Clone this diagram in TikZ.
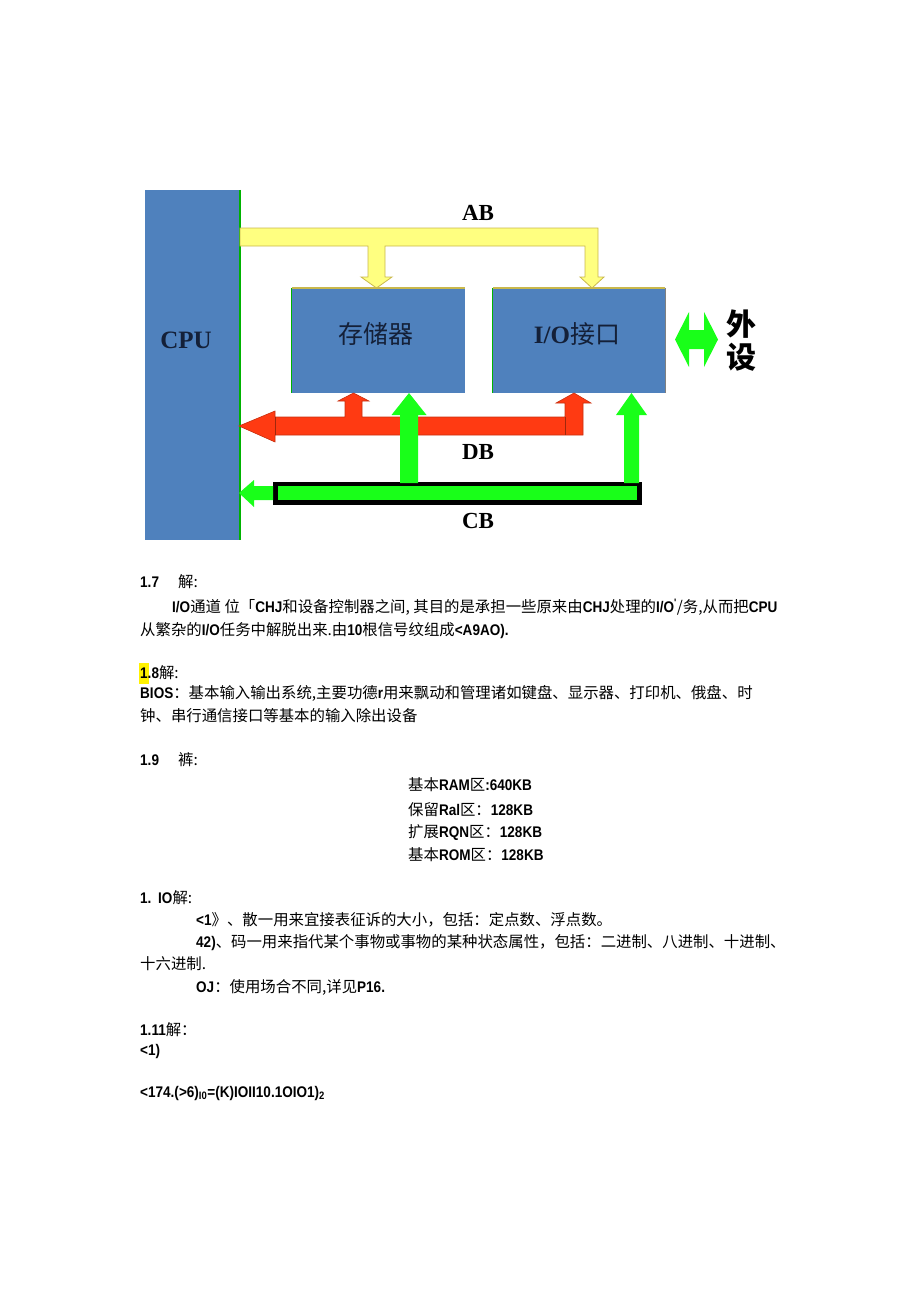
\documentclass[tikz,border=0pt]{standalone}
\usepackage{fontspec}
\setmainfont{Liberation Sans}
\newfontfamily\cjk{Noto Sans CJK SC}
\newfontfamily\narrowfont[FakeStretch=0.88]{Liberation Sans}
\newfontfamily\seriffont{Liberation Serif}
\newcommand{\lat}[1]{{\narrowfont\bfseries #1}}
\definecolor{boxblue}{HTML}{4F81BD}
\definecolor{busyellow}{HTML}{FFFF80}
\definecolor{yellowedge}{HTML}{C9B84C}
\definecolor{busred}{HTML}{FF3A12}
\definecolor{rededge}{HTML}{C8300F}
\definecolor{busgreen}{HTML}{19FF19}
\definecolor{textnavy}{HTML}{142038}

\begin{document}
\begin{tikzpicture}[x=1pt, y=-1pt,
    unit/.style={fill=boxblue, inner sep=0pt},
    unitlabel/.style={text=textnavy, inner sep=0pt},
    bustag/.style={font=\seriffont\bfseries\fontsize{23}{23}\selectfont, inner sep=0pt},
    para/.style={anchor=base west, inner sep=0pt, font=\cjk\fontsize{15.4}{17}\selectfont}]
    \useasboundingbox (0,0) rectangle (920,1301);

    % 三个部件
    \node[unit, minimum width=95, minimum height=350] (cpu) at (192.5,365) {};
    \node[unit, minimum width=173, minimum height=105] (mem) at (378.5,340.5) {};
    \node[unit, minimum width=172, minimum height=105] (io) at (579,340.5) {};
    \draw[green!70!black, line width=1.5] (cpu.north east) -- (cpu.south east);
    \draw[green!70!black, line width=1.2] (mem.north west) -- (mem.south west);
    \draw[green!70!black, line width=1.2] (io.north west) -- (io.south west);
    \draw[gray, line width=1] (io.north east) -- (io.south east);

    \node[unitlabel, font=\seriffont\bfseries\fontsize{25}{25}\selectfont] (cputext) at (186,340) {CPU};
    \node[unitlabel, font=\cjk\fontsize{25}{25}\selectfont] (memtext) at (376,334) {存储器};
    \node[unitlabel, font=\cjk\fontsize{25}{25}\selectfont] (iotext) at (577,334) {{\seriffont\bfseries I/O}接口};

    % AB 地址总线
    \filldraw[fill=busyellow, draw=yellowedge, line width=0.8]
        (240,228) -- (598,228) -- (598,277) -- (604,277) -- (592,288) -- (580,277)
        -- (585,277) -- (585,246) -- (385,246) -- (385,277) -- (392,277) -- (376.5,288)
        -- (361,277) -- (368,277) -- (368,246) -- (240,246) -- cycle;
    \draw[yellowedge, line width=1.5] (mem.north west) -- (mem.north east);
    \draw[yellowedge, line width=1.5] (io.north west) -- (io.north east);

    % DB 数据总线
    \filldraw[fill=busred, draw=rededge, line width=0.6]
        (239,426) -- (275,411) -- (275,417) -- (345,417) -- (345,401) -- (338,401)
        -- (353.5,393) -- (369,401) -- (362,401) -- (362,417) -- (565,417) -- (565,403)
        -- (556,403) -- (574,393) -- (591,403) -- (583,403) -- (583,435) -- (275,435)
        -- (275,442) -- cycle;
    \draw[rededge!80!black, line width=0.8] (275,417) -- (275,435);
    \draw[rededge!80!black, line width=0.8] (565,417) -- (565,435);

    % CB 控制总线
    \fill[black] (273,482) rectangle (642,505);
    \fill[busgreen] (278,486) rectangle (637,500);
    \fill[busgreen] (273,486) -- (254,486) -- (254,480) -- (239,493) -- (254,507)
        -- (254,500) -- (273,500) -- cycle;
    \foreach \cx/\hw/\sw in {409/17.5/9, 631.5/15.5/7.5} {
        \fill[busgreen] (\cx-\sw,483) -- (\cx-\sw,415) -- (\cx-\hw,415) -- (\cx,393)
            -- (\cx+\hw,415) -- (\cx+\sw,415) -- (\cx+\sw,483) -- cycle;
    }

    % 外设
    \fill[busgreen] (675,339.5) -- (689,312) -- (689,330) -- (704,330) -- (704,312)
        -- (718,339.5) -- (704,367) -- (704,349) -- (689,349) -- (689,367) -- cycle;
    \node[inner sep=0pt, align=center, font=\cjk\bfseries\fontsize{30}{33}\selectfont] (periph) at (741,341) {外\\设};

    \node[bustag] (abtag) at (478,213) {AB};
    \node[bustag] (dbtag) at (478,452) {DB};
    \node[bustag] (cbtag) at (478,521) {CB};

    % 文字部分
    \fill[yellow] (139,663) rectangle (149,684);
    \node[para] (t17) at (140,587) {\lat{1.7}};
    \node[para] (t17b) at (178,587) {解:};
    \node[para] (t17c) at (172,612) {\lat{I/O}通道 位「\lat{CHJ}和设备控制器之间, 其目的是承担一些原来由\lat{CHJ}处理的\lat{I/O}\textsuperscript{\lat{'}}/务,从而把\lat{CPU}};
    \node[para] (t17d) at (140,635) {从繁杂的\lat{I/O}任务中解脱出来.由\lat{10}根信号纹组成\lat{<A9AO).}};
    \node[para] (t18) at (140,678) {\lat{1.8}解:};
    \node[para] (t18b) at (140,698) {\lat{BIOS}：基本输入输出系统,主要功德\lat{r}用来飘动和管理诸如键盘、显示器、打印机、俄盘、时};
    \node[para] (t18c) at (140,721) {钟、串行通信接口等基本的输入除出设备};
    \node[para] (t19) at (140,765) {\lat{1.9}};
    \node[para] (t19b) at (178,765) {裤:};
    \node[para] (ram) at (408,790) {基本\lat{RAM}区\lat{:640KB}};
    \node[para] (rsv) at (408,815) {保留\lat{Ral}区：\lat{128KB}};
    \node[para] (ext) at (408,837) {扩展\lat{RQN}区：\lat{128KB}};
    \node[para] (rom) at (408,860) {基本\lat{ROM}区：\lat{128KB}};
    \node[para] (t110) at (140,903) {\lat{1.}};
    \node[para] (t110b) at (158,903) {\lat{IO}解:};
    \node[para] (t110c) at (196,925) {\lat{<1}》、散一用来宜接表征诉的大小，包括：定点数、浮点数。};
    \node[para] (t110d) at (196,947) {\lat{42)}、码一用来指代某个事物或事物的某种状态属性，包括：二进制、八进制、十进制、};
    \node[para] (t110e) at (140,969) {十六进制.};
    \node[para] (t110f) at (196,992) {\lat{OJ}：使用场合不同,详见\lat{P16.}};
    \node[para] (t111) at (140,1035) {\lat{1.11}解：};
    \node[para] (t111b) at (140,1055) {\lat{<1)}};
    \node[para] (t111c) at (140,1097) {\lat{<174.(>6)\textsubscript{I0}=(K)IOII10.1OIO1)\textsubscript{2}}};
\end{tikzpicture}
\end{document}
